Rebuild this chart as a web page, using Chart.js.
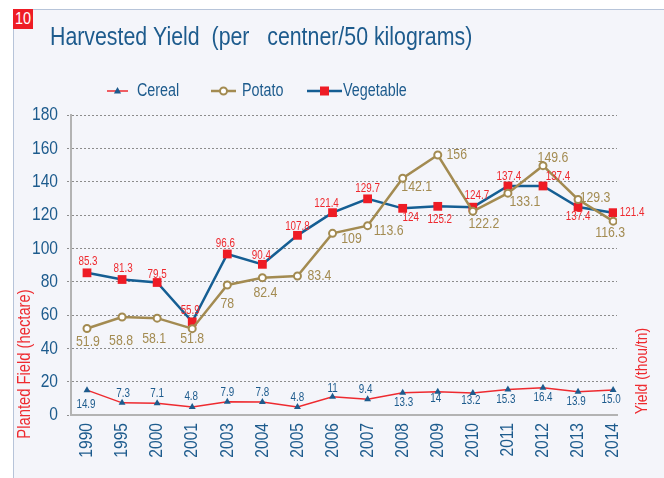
<!DOCTYPE html>
<html>
<head>
<meta charset="utf-8">
<script src="https://cdn.jsdelivr.net/npm/chart.js@4.4.1/dist/chart.umd.min.js"></script>
<style>
  html, body { margin: 0; padding: 0; background: #fff; }
  #wrap { position: relative; width: 664px; height: 478px; overflow: hidden; }
  #frame { position: absolute; left: 13px; top: 9px; right: 0; bottom: 0; background: #f4f5fa;
           border-left: 1px solid #b7c4d9; border-top: 1px solid #b7c4d9; }
  #badge { position: absolute; left: 13px; top: 9px; width: 20px; height: 20px; background: #ee1c25; }
  #badge span { display: block; color: #fff; font: 17px 'Liberation Sans', Arial, sans-serif; line-height: 20px;
                text-align: center; transform: scaleX(0.85); }
  canvas { position: absolute; left: 0; top: 0; }
</style>
</head>
<body>
<div id="wrap">
  <div id="frame"></div>
  <div id="badge"><span>10</span></div>
  <canvas id="chart" width="664" height="478"></canvas>
</div>
<script>
const years = ["1990", "1995", "2000", "2001", "2003", "2004", "2005", "2006", "2007", "2008", "2009", "2010", "2011", "2012", "2013", "2014"];
const cereal = [14.9, 7.3, 7.1, 4.8, 7.9, 7.8, 4.8, 11, 9.4, 13.3, 14, 13.2, 15.3, 16.4, 13.9, 15.0];
const potato = [51.9, 58.8, 58.1, 51.8, 78, 82.4, 83.4, 109, 113.6, 142.1, 156, 122.2, 133.1, 149.6, 129.3, 116.3];
const vegetable = [85.3, 81.3, 79.5, 55.9, 96.6, 90.4, 107.8, 121.4, 129.7, 124, 125.2, 124.7, 137.4, 137.4, 124.8, 121.4];

// label texts as printed on the picture
const cerealLabels = ["14.9", "7.3", "7.1", "4.8", "7.9", "7.8", "4.8", "11", "9.4", "13.3", "14", "13.2", "15.3", "16.4", "13.9", "15.0"];
const potatoLabels = potato.map(String);
const vegetableLabels = ["85.3", "81.3", "79.5", "55.9", "96.6", "90.4", "107.8", "121.4", "129.7", "124", "125.2", "124.7", "137.4", "137.4", "137.4", "121.4"];

const yTicks = [0, 20, 40, 60, 80, 100, 120, 140, 160, 180];

const FONT = "'Liberation Sans', Arial, sans-serif";
const SQUEEZE = 0.82; // the original uses a narrow face
const BLUE = "#1d5b8d";
const RED = "#ee2a2f";
const TAN = "#a38b51";

// label offsets from the point (dx, dy)
const labelOffsets = {
  potato: [[1,13],[-1,24],[-3,21],[0,10],[0,19],[3,15],[22,0],[19,6],[21,5],[14,9],[19,0],[11,13],[17,9],[10,-8],[17,-2],[-3,12]],
  vegetable: [[1,-11],[1,-11],[0,-8],[-2,-11],[-2,-10],[-1,-9],[0,-9],[-6,-9],[0,-10],[8,9],[2,13],[4,-11],[1,-9],[15,-9],[0,10],[19,0]],
  cereal: [[-1,15],[1,-9],[0,-9],[-1,-10],[0,-9],[0,-9],[0,-9],[0,-8],[-2,-10],[1,10],[-2,7],[-2,8],[-2,10],[0,10],[-2,10],[-2,10]]
};

const xy = arr => arr.map((v, i) => ({ x: i, y: v }));

// narrow text: squeeze a normal face horizontally
function narrow(ctx, text, x, y, size, color, align, baseline, rot) {
  ctx.save();
  ctx.translate(x, y);
  if (rot) ctx.rotate(rot);
  ctx.scale(SQUEEZE, 1);
  ctx.font = size + "px " + FONT;
  ctx.fillStyle = color;
  ctx.textAlign = align || "center";
  ctx.textBaseline = baseline || "middle";
  ctx.fillText(text, 0, 0);
  ctx.restore();
}

function marker(ctx, style, x, y) {
  ctx.save();
  if (style === "triangle") {
    ctx.fillStyle = BLUE;
    ctx.beginPath();
    ctx.moveTo(x, y - 4); ctx.lineTo(x + 3.6, y + 2.5); ctx.lineTo(x - 3.6, y + 2.5);
    ctx.closePath(); ctx.fill();
  } else if (style === "circle") {
    ctx.fillStyle = "#fff"; ctx.strokeStyle = TAN; ctx.lineWidth = 2;
    ctx.beginPath(); ctx.arc(x, y, 3.5, 0, Math.PI * 2); ctx.fill(); ctx.stroke();
  } else {
    ctx.fillStyle = "#ee1c25";
    ctx.fillRect(x - 4.5, y - 4.5, 9, 9);
  }
  ctx.restore();
}

const extras = {
  id: "extras",
  afterDatasetsDraw(chart) {
    const ctx = chart.ctx;
    const specs = {
      potato: { labels: potatoLabels, color: TAN, size: 15 },
      vegetable: { labels: vegetableLabels, color: RED, size: 12 },
      cereal: { labels: cerealLabels, color: BLUE, size: 12 }
    };
    chart.data.datasets.forEach((ds, di) => {
      const spec = specs[ds.key];
      chart.getDatasetMeta(di).data.forEach((pt, i) => {
        const off = labelOffsets[ds.key][i];
        narrow(ctx, spec.labels[i], pt.x + off[0], pt.y + off[1], spec.size, spec.color);
      });
    });
  },
  afterDraw(chart) {
    const ctx = chart.ctx;
    const xs = chart.scales.x, ys = chart.scales.y;

    // tick labels
    yTicks.forEach(v => narrow(ctx, String(v), 58, ys.getPixelForValue(v), 19, BLUE, "right"));
    years.forEach((y, i) => narrow(ctx, y, xs.getPixelForValue(i), 423, 19, BLUE, "right", "middle", -Math.PI / 2));

    // title
    narrow(ctx, "Harvested Yield  (per   centner/50 kilograms)", 50, 45, 26, BLUE, "left", "alphabetic");

    // legend
    const items = [
      { text: "Cereal", line: RED, style: "triangle", x: 107, w: 21, gap: 9 },
      { text: "Potato", line: TAN, style: "circle", x: 211, w: 25, gap: 6 },
      { text: "Vegetable", line: "#155e93", style: "rect", x: 307, w: 35, gap: 1 }
    ];
    items.forEach(it => {
      ctx.save();
      ctx.strokeStyle = it.line;
      ctx.lineWidth = it.style === "triangle" ? 1.5 : 2.5;
      ctx.beginPath(); ctx.moveTo(it.x, 91); ctx.lineTo(it.x + it.w, 91); ctx.stroke();
      ctx.restore();
      marker(ctx, it.style, it.x + it.w / 2, 91);
      narrow(ctx, it.text, it.x + it.w + it.gap, 91, 17.5, BLUE, "left");
    });

    // axis titles
    narrow(ctx, "Planted Field (hectare)", 25, 364, 18, RED, "center", "middle", -Math.PI / 2);
    narrow(ctx, "Yield (thou/tn)", 642, 371, 17, RED, "center", "middle", -Math.PI / 2);
  }
};

new Chart(document.getElementById("chart"), {
  type: "line",
  data: {
    datasets: [
      {
        key: "potato", label: "Potato", data: xy(potato),
        borderColor: TAN, borderWidth: 2.5, pointStyle: "circle", pointRadius: 3.5,
        pointBackgroundColor: "#fff", pointBorderColor: TAN, pointBorderWidth: 2
      },
      {
        key: "vegetable", label: "Vegetable", data: xy(vegetable),
        borderColor: "#155e93", borderWidth: 2.5, pointStyle: "rect", pointRadius: 6.2,
        pointBackgroundColor: "#ee1c25", pointBorderColor: "#ee1c25", pointBorderWidth: 0
      },
      {
        key: "cereal", label: "Cereal", data: xy(cereal),
        borderColor: RED, borderWidth: 1.5, pointStyle: "triangle", pointRadius: 4,
        pointBackgroundColor: BLUE, pointBorderColor: BLUE, pointBorderWidth: 0
      }
    ]
  },
  options: {
    responsive: false,
    animation: false,
    layout: { padding: { top: 115, right: 47, left: 0, bottom: 0 } },
    plugins: { legend: { display: false }, title: { display: false }, tooltip: { enabled: false } },
    scales: {
      x: {
        type: "linear",
        min: -0.456, max: 15.11,
        afterBuildTicks: s => { s.ticks = years.map((y, i) => ({ value: i })); },
        afterFit: s => { s.height = 63; },
        grid: { display: false, drawTicks: false },
        border: { display: true, color: "#b3b3b3", width: 2 },
        ticks: { display: false }
      },
      y: {
        min: 0, max: 180,
        afterBuildTicks: s => { s.ticks = yTicks.map(v => ({ value: v })); },
        afterFit: s => { s.width = 71; },
        grid: { color: "#8c8c8c", lineWidth: 1, tickLength: 4, tickBorderDash: [2, 2] },
        border: { display: true, color: "#b3b3b3", width: 2, dash: [2, 2] },
        ticks: { display: false }
      }
    }
  },
  plugins: [extras]
});
</script>
</body>
</html>
